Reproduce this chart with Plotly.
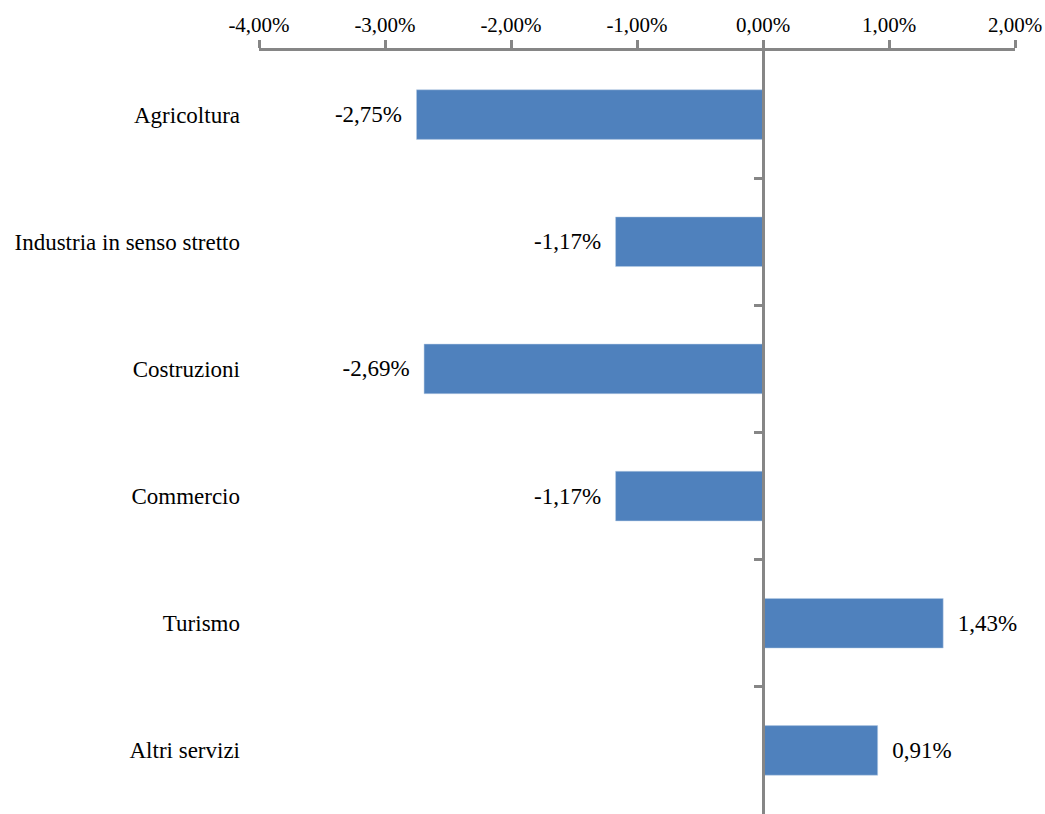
import plotly.graph_objects as go

categories = ["Agricoltura", "Industria in senso stretto", "Costruzioni",
              "Commercio", "Turismo", "Altri servizi"]
values = [-0.0275, -0.0117, -0.0269, -0.0117, 0.0143, 0.0091]
x_ticks = [-0.04, -0.03, -0.02, -0.01, 0.0, 0.01, 0.02]

AXIS_GRAY = "#868686"
BAR_BLUE = "#4F81BD"
FONT = "Liberation Serif"
NB = "\u00a0"
FS_TICK = 21
FS_LABEL = 23


def pct(v):
    return f"{v * 100:.2f}%".replace(".", ",")


tick_text = [pct(t) for t in x_ticks]
texttemplates = [("%{x:.2%}" + NB * 2) if v < 0 else (NB * 2 + "%{x:.2%}") for v in values]
n = len(categories)

fig = go.Figure()
fig.add_trace(go.Bar(
    x=values, y=categories, orientation="h",
    marker=dict(color=BAR_BLUE, line=dict(color="#B9CDE5", width=0.5)),
    width=0.39,
    texttemplate=texttemplates, textposition="outside",
    textfont=dict(family=FONT, size=FS_LABEL, color="black"),
    cliponaxis=False, showlegend=False, hoverinfo="x+y",
))
# helper trace to carry the secondary (zero) axis
fig.add_trace(go.Scatter(
    x=[0, 0], y=[-0.5, n - 0.5], yaxis="y2", mode="lines",
    line=dict(width=0), showlegend=False, hoverinfo="skip",
))

xmin, xmax = x_ticks[0], x_ticks[-1]
fig.update_layout(
    width=1045, height=814,
    margin=dict(l=259, r=30, t=51, b=0),
    paper_bgcolor="white", plot_bgcolor="white",
    separators=",.",
    font=dict(family=FONT, size=FS_TICK, color="black"),
    xaxis=dict(
        side="top", range=[xmin, xmax], tickvals=x_ticks, ticktext=tick_text,
        showgrid=False, zeroline=False,
        showline=True, linecolor=AXIS_GRAY, linewidth=3,
        ticks="outside", ticklen=8, tickwidth=3, tickcolor=AXIS_GRAY,
        ticklabelstandoff=0,
        tickfont=dict(family=FONT, size=FS_TICK, color="black"),
    ),
    yaxis=dict(
        type="category", categoryorder="array", categoryarray=categories,
        range=[n - 0.5, -0.5],
        showgrid=False, zeroline=False, showline=False, ticks="",
        ticklabelstandoff=18,
        tickfont=dict(family=FONT, size=FS_LABEL, color="black"),
    ),
    yaxis2=dict(
        overlaying="y", anchor="free",
        position=(0 - xmin) / (xmax - xmin),
        range=[n - 0.5, -0.5],
        tickvals=[i + 0.5 for i in range(n - 1)],
        showticklabels=False, showgrid=False, zeroline=False,
        showline=True, linecolor=AXIS_GRAY, linewidth=3,
        ticks="outside", ticklen=8, tickwidth=3, tickcolor=AXIS_GRAY,
        side="left",
    ),
)

fig.write_html(
    "out.html",
    config={"displayModeBar": False},
    post_script="document.body.style.margin='0';document.body.style.overflow='hidden';",
)
